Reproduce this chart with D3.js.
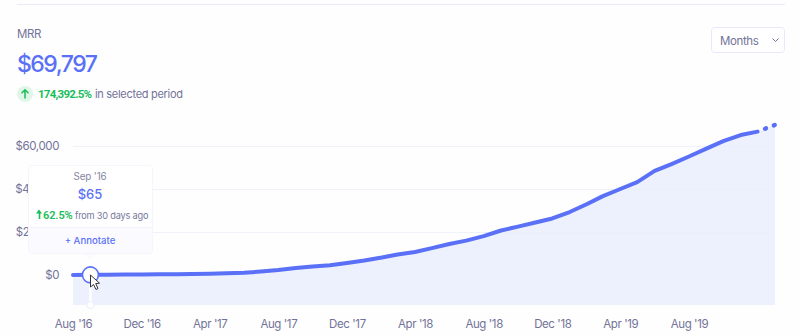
<!DOCTYPE html>
<html><head><meta charset="utf-8">
<script src="https://cdn.jsdelivr.net/npm/d3@7"></script>
<style>
html,body{margin:0;padding:0;background:#fefefe;}
svg{display:block;font-family:Inter,"Noto Sans",sans-serif;}
.axis path,.axis line{display:none;}
.axis text{font-family:Inter,"Noto Sans",sans-serif;font-size:11.5px;letter-spacing:-0.4px;fill:#727399;}
</style></head><body>
<svg id="c" width="800" height="336"></svg>
<script>
const months = d3.range(42).map(i => new Date(2016, 7 + i, 1));
const mrr = [40,65,120,180,230,300,400,500,620,800,1050,1600,2300,3300,3950,4500,5600,6750,8100,9500,10700,12500,14400,16000,18100,20700,22500,24400,26300,29300,33000,36700,40000,43200,48400,51600,55100,58800,62300,65100,66700,69797];
const yTicks = [0,20000,40000,60000];
const xTicks = [0,4,8,12,16,20,24,28,32,36].map(i => months[i]);
const hoverIndex = 1;
const title = "MRR", total = "$69,797", change = "174,392.5%", changeText = "in selected period";
const tipDate = "Sep '16", tipValue = "$65", tipChange = "62.5%", tipText = "from 30 days ago", tipAction = "+ Annotate", rangeLabel = "Months";

const blue = "#5a70f6", area = "#edf1fd", green = "#19bd5b", grey = "#727399";
const x = d3.scaleTime().domain([months[0], months[41]]).range([73, 775]);
const y = d3.scaleLinear().domain([0, 60000]).range([275, 146]);
const svg = d3.select("#c");

svg.append("line").attr("x1",17).attr("x2",785).attr("y1",4.5).attr("y2",4.5).attr("stroke","#e8eafc");

const T = (s,px,py,size,fill,anchor,weight) => svg.append("text").text(s).attr("x",px).attr("y",py)
  .attr("font-size",size).attr("fill",fill).attr("text-anchor",anchor||"start").attr("font-weight",weight||400);

T(title,17,38,11.5,grey).attr("letter-spacing",-0.4);
T(total,17,72,23,blue,"start",500).attr("letter-spacing",-1.5);
svg.append("circle").attr("cx",25).attr("cy",94).attr("r",8).attr("fill","#dff6e8");
svg.append("path").attr("d","M25 98.5V90M21.5 93.2L25 89.7L28.5 93.2").attr("fill","none").attr("stroke",green).attr("stroke-width",1.5);
T(change,38,98,11.5,green,"start",700).attr("font-family","Roboto").attr("letter-spacing",-0.75);
T(changeText,95,98,11,grey).attr("letter-spacing",-0.3);

svg.append("rect").attr("x",711.5).attr("y",27.5).attr("width",73).attr("height",25).attr("rx",3).attr("fill","#fff").attr("stroke","#e8eafc");
T(rangeLabel,720,44.5,11.5,grey).attr("letter-spacing",-0.4);
svg.append("path").attr("d","M772.5 38.5L775.5 41.5L778.5 38.5").attr("fill","none").attr("stroke",grey).attr("stroke-width",1);

// grid
svg.append("g").selectAll("line").data(yTicks.slice(1)).join("line")
  .attr("x1",73).attr("x2",775).attr("y1",d=>y(d)+.5).attr("y2",d=>y(d)+.5).attr("stroke","#f4f5fc");

// area
const base = 305;
svg.append("path").datum(mrr).attr("fill",area)
  .attr("d",d3.area().x((d,i)=>x(months[i])).y0(base).y1(d=>y(d)));
svg.append("g").selectAll("line").data(yTicks.slice(1)).join("line")
  .attr("x1",73).attr("x2",775).attr("y1",d=>y(d)+.5).attr("y2",d=>y(d)+.5).attr("stroke","#e9edfb").attr("stroke-opacity",.5);

// line
const ln = d3.line().x((d,i)=>x(months[i])).y(d=>y(d));
const solid = mrr.slice(0,41);
svg.append("path").attr("d",ln(solid)).attr("fill","none").attr("stroke",blue).attr("stroke-width",4).attr("stroke-linecap","round").attr("stroke-linejoin","round");
const tail = d3.line().x(d=>x(months[d])).y(d=>y(mrr[d]))([40,41]);
svg.append("path").attr("d",tail).attr("fill","none").attr("stroke",blue).attr("stroke-width",4.4).attr("stroke-linecap","round").attr("stroke-dasharray","1 8.4").attr("stroke-dashoffset",-8);

// axes
svg.append("g").attr("class","axis").attr("transform","translate(59,0)")
  .call(d3.axisLeft(y).tickValues(yTicks).tickFormat(d=>"$"+d3.format(",")(d)).tickSize(0).tickPadding(0));
svg.append("g").attr("class","axis").attr("transform","translate(0,320)")
  .call(d3.axisBottom(x).tickValues(xTicks).tickFormat(d=>d3.timeFormat("%b '%y")(d)).tickSize(0).tickPadding(0));

// hover marker
const hx = x(months[hoverIndex]), hy = y(mrr[hoverIndex]);
svg.append("line").attr("x1",hx).attr("x2",hx).attr("y1",hy).attr("y2",305).attr("stroke","#fff").attr("stroke-width",2.5);
svg.append("circle").attr("cx",hx).attr("cy",305).attr("r",3.5).attr("fill","#fff").attr("stroke","#eceefb");
svg.append("circle").attr("cx",hx).attr("cy",hy).attr("r",8).attr("fill","#fff").attr("stroke",blue).attr("stroke-width",1.6);

// tooltip
svg.append("rect").attr("x",28.5).attr("y",165.5).attr("width",124).attr("height",88).attr("rx",3).attr("fill","#fff").attr("stroke","#f5f6fd");
svg.append("rect").attr("x",29).attr("y",228).attr("width",123).attr("height",25).attr("fill","#fbfbff");
svg.append("line").attr("x1",29).attr("x2",152).attr("y1",227.5).attr("y2",227.5).attr("stroke","#f2f3fb");
svg.append("path").attr("d","M84 254L90 260L96 254Z").attr("fill","#fbfbff");
T(tipDate,90,180,9.8,"#85869f","middle").attr("letter-spacing",-0.1);
T(tipValue,90,199,13,blue,"middle",500);
svg.append("path").attr("d","M38.7 219V213.5H36L39 209.5L42 213.5H40.3V219Z").attr("fill",green);
T(tipChange,43,219,11,green,"start",600).attr("font-family","Roboto").attr("letter-spacing",-0.1);
T(tipText,75,219,9.2,"#77789a").attr("letter-spacing",-0.2);
T(tipAction,90,244,9.6,blue,"middle",500);

// cursor
svg.append("path").attr("d","M90.5 275L90.5 287L93.5 284.5L96 289.5L98 288.5L95.7 283.6L99.5 283.2Z").attr("fill","#fff").attr("stroke","#333").attr("stroke-width",1);
</script></body></html>
